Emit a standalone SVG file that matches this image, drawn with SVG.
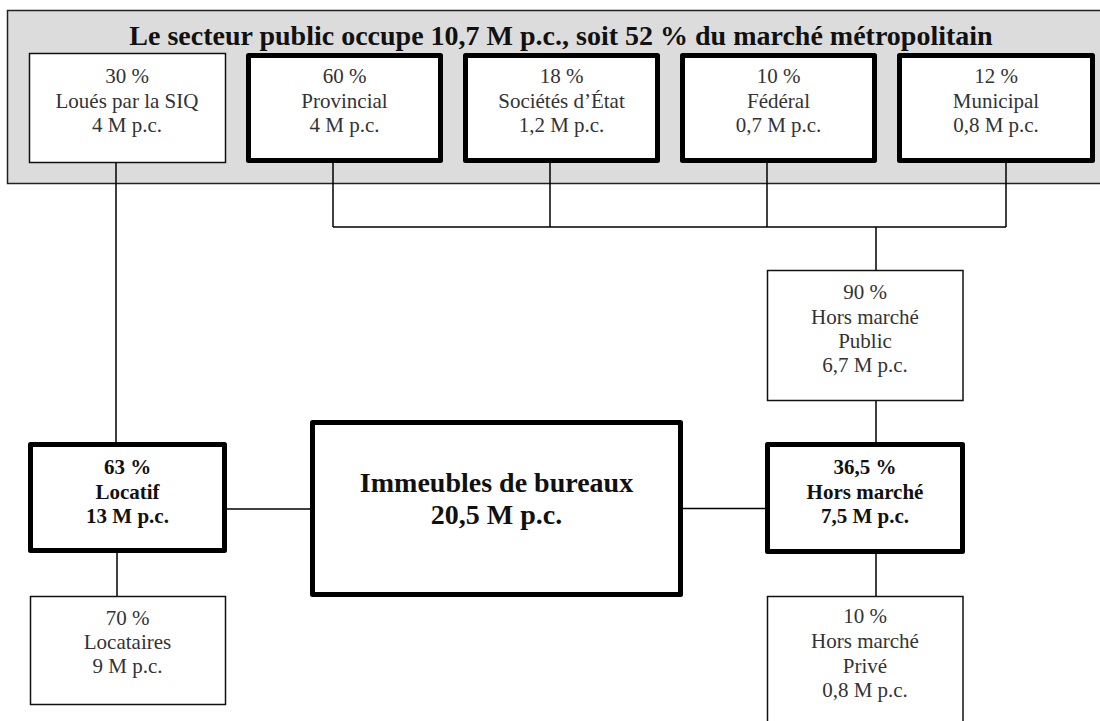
<svg xmlns="http://www.w3.org/2000/svg" width="1100" height="721" viewBox="0 0 1100 721">
<style>
.bg{fill:#dcdcdc;stroke:#222;stroke-width:1.5}
.thin{fill:#fff;stroke:#111;stroke-width:1.5}
.thick{fill:#fff;stroke:#000;stroke-width:5;stroke-linejoin:round}
.conn line{stroke:#000;stroke-width:1.5}
text{font-family:"Liberation Serif","Times New Roman",serif;text-anchor:middle}
.r{font-size:21px;fill:#333}
.b{font-size:21px;font-weight:bold;fill:#111}
.big{font-size:28px;font-weight:bold;fill:#111}
</style>
<rect width="1100" height="721" fill="#fff"/>
<g id="public">
<rect class="bg" x="7.5" y="10.5" width="1110" height="173"/>
<text class="big" x="561" y="45">Le secteur public occupe 10,7 M p.c., soit 52 % du marché métropolitain</text>
</g>
<g class="conn" id="connectors">
<line x1="116" y1="163" x2="116" y2="443"/>
<line x1="333" y1="163" x2="333" y2="227"/>
<line x1="550" y1="163" x2="550" y2="227"/>
<line x1="767" y1="163" x2="767" y2="227"/>
<line x1="1006" y1="163" x2="1006" y2="227"/>
<line x1="333" y1="227" x2="1006" y2="227"/>
<line x1="876" y1="227" x2="876" y2="271"/>
<line x1="876" y1="401" x2="876" y2="443"/>
<line x1="876" y1="553" x2="876" y2="597"/>
<line x1="117" y1="552" x2="117" y2="597"/>
<line x1="226" y1="509" x2="311" y2="509"/>
<line x1="682" y1="508.5" x2="766" y2="508.5"/>
</g>
<g id="siq">
<rect class="thin" x="29.5" y="53.5" width="196" height="109"/>
<text class="r" x="127" y="83">30 %</text>
<text class="r" x="127" y="107.5">Loués par la SIQ</text>
<text class="r" x="127" y="132">4 M p.c.</text>
</g>
<g id="provincial">
<rect class="thick" x="248.5" y="55.5" width="192" height="105"/>
<text class="r" x="344.5" y="83">60 %</text>
<text class="r" x="344.5" y="107.5">Provincial</text>
<text class="r" x="344.5" y="132">4 M p.c.</text>
</g>
<g id="societes">
<rect class="thick" x="465.5" y="55.5" width="192" height="105"/>
<text class="r" x="561.5" y="83">18 %</text>
<text class="r" x="561.5" y="107.5">Sociétés d’État</text>
<text class="r" x="561.5" y="132">1,2 M p.c.</text>
</g>
<g id="federal">
<rect class="thick" x="682.5" y="55.5" width="192" height="105"/>
<text class="r" x="778.5" y="83">10 %</text>
<text class="r" x="778.5" y="107.5">Fédéral</text>
<text class="r" x="778.5" y="132">0,7 M p.c.</text>
</g>
<g id="municipal">
<rect class="thick" x="899.5" y="55.5" width="193" height="105"/>
<text class="r" x="996" y="83">12 %</text>
<text class="r" x="996" y="107.5">Municipal</text>
<text class="r" x="996" y="132">0,8 M p.c.</text>
</g>
<g id="hors-marche-public">
<rect class="thin" x="767.5" y="270.5" width="195.5" height="130"/>
<text class="r" x="865" y="299">90 %</text>
<text class="r" x="865" y="323.5">Hors marché</text>
<text class="r" x="865" y="347.5">Public</text>
<text class="r" x="865" y="372">6,7 M p.c.</text>
</g>
<g id="locatif">
<rect class="thick" x="30.5" y="444.5" width="194" height="106"/>
<text class="b" x="127.5" y="474">63 %</text>
<text class="b" x="127.5" y="498.5">Locatif</text>
<text class="b" x="127.5" y="523">13 M p.c.</text>
</g>
<g id="immeubles">
<rect class="thick" x="312.5" y="422.5" width="368" height="172"/>
<text class="big" x="496.5" y="492">Immeubles de bureaux</text>
<text class="big" x="496.5" y="524">20,5 M p.c.</text>
</g>
<g id="hors-marche">
<rect class="thick" x="767.5" y="444.5" width="195" height="107"/>
<text class="b" x="865" y="474">36,5 %</text>
<text class="b" x="865" y="498.5">Hors marché</text>
<text class="b" x="865" y="523">7,5 M p.c.</text>
</g>
<g id="locataires">
<rect class="thin" x="30.5" y="596.5" width="195" height="108"/>
<text class="r" x="127.5" y="625">70 %</text>
<text class="r" x="127.5" y="649">Locataires</text>
<text class="r" x="127.5" y="673">9 M p.c.</text>
</g>
<g id="hors-marche-prive">
<rect class="thin" x="767.5" y="596.5" width="195.5" height="140"/>
<text class="r" x="865" y="623">10 %</text>
<text class="r" x="865" y="648">Hors marché</text>
<text class="r" x="865" y="672.5">Privé</text>
<text class="r" x="865" y="697">0,8 M p.c.</text>
</g>
</svg>
